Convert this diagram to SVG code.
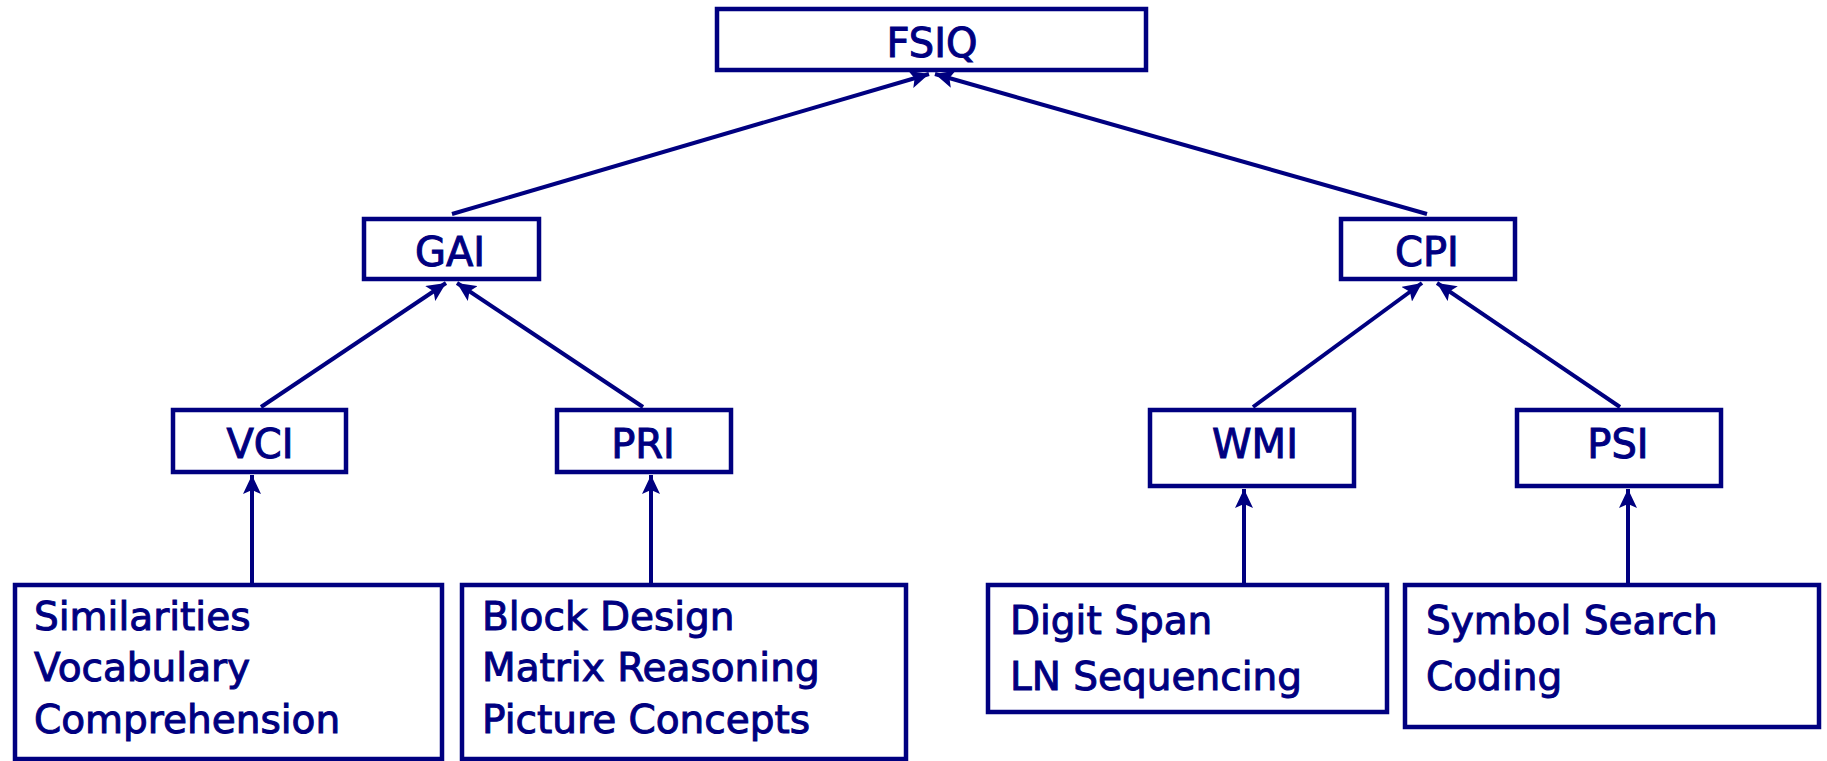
<svg xmlns="http://www.w3.org/2000/svg" width="1827" height="761" viewBox="0 0 1827 761">
<style>
.box{fill:#fff;stroke:#000080;stroke-width:4.5}
.lbl{font-family:"DejaVu Sans",sans-serif;font-size:40px;fill:#000080;stroke:#000080;stroke-width:1;text-anchor:middle}
.item{font-family:"DejaVu Sans",sans-serif;font-size:39px;fill:#000080;stroke:#000080;stroke-width:1}
.conn line{stroke:#000080;stroke-width:4;marker-end:url(#arr)}
</style>
<defs>
<marker id="arr" markerUnits="userSpaceOnUse" markerWidth="20" markerHeight="18" refX="19" refY="9" orient="auto">
<path d="M0,0 L19,9 L0,18 L4,9 z" fill="#000080"/>
</marker>
</defs>
<rect width="1827" height="761" fill="#fff"/>
<g id="connectors" class="conn">
<line x1="452" y1="214" x2="929" y2="74"/>
<line x1="1427" y1="214" x2="935" y2="74"/>
<line x1="261" y1="407" x2="446" y2="283"/>
<line x1="643" y1="407" x2="457" y2="283"/>
<line x1="1253" y1="407" x2="1422" y2="283"/>
<line x1="1620" y1="407" x2="1437" y2="283"/>
<line x1="252" y1="583" x2="252" y2="475"/>
<line x1="651" y1="583" x2="651" y2="475"/>
<line x1="1244" y1="583" x2="1244" y2="489"/>
<line x1="1628" y1="583" x2="1628" y2="489"/>
</g>
<g id="fsiq"><rect class="box" x="717" y="9" width="429" height="61"/><text class="lbl" x="932" y="57">FSIQ</text></g>
<g id="gai"><rect class="box" x="364" y="219" width="175" height="60"/><text class="lbl" x="450" y="266">GAI</text></g>
<g id="cpi"><rect class="box" x="1341" y="219" width="174" height="60"/><text class="lbl" x="1427" y="266">CPI</text></g>
<g id="vci"><rect class="box" x="173" y="410" width="173" height="62"/><text class="lbl" x="260" y="458">VCI</text></g>
<g id="pri"><rect class="box" x="557" y="410" width="174" height="62"/><text class="lbl" x="643" y="458">PRI</text></g>
<g id="wmi"><rect class="box" x="1150" y="410" width="204" height="76"/><text class="lbl" x="1255" y="458">WMI</text></g>
<g id="psi"><rect class="box" x="1517" y="410" width="204" height="76"/><text class="lbl" x="1618" y="458">PSI</text></g>
<g id="vci-tests"><rect class="box" x="15" y="585" width="427" height="174"/>
<text class="item" x="34" y="630">Similarities</text>
<text class="item" x="34" y="681">Vocabulary</text>
<text class="item" x="34" y="733">Comprehension</text></g>
<g id="pri-tests"><rect class="box" x="462" y="585" width="444" height="174"/>
<text class="item" x="482" y="630">Block Design</text>
<text class="item" x="482" y="681">Matrix Reasoning</text>
<text class="item" x="482" y="733">Picture Concepts</text></g>
<g id="wmi-tests"><rect class="box" x="988" y="585" width="399" height="127"/>
<text class="item" x="1010" y="634">Digit Span</text>
<text class="item" x="1010" y="690">LN Sequencing</text></g>
<g id="psi-tests"><rect class="box" x="1405" y="585" width="414" height="142"/>
<text class="item" x="1426" y="634">Symbol Search</text>
<text class="item" x="1426" y="690">Coding</text></g>
</svg>
